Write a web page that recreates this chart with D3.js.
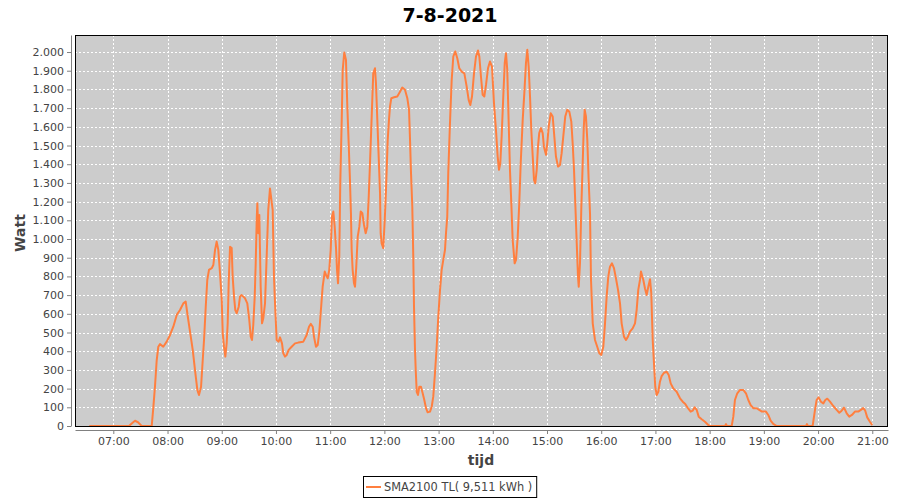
<!DOCTYPE html>
<html><head><meta charset="utf-8">
<script src="https://cdn.jsdelivr.net/npm/d3@7/dist/d3.min.js"></script>
<style>body{margin:0;background:#fff}svg{display:block}text{font-family:"DejaVu Sans",sans-serif}</style>
</head><body><svg id="c" width="900" height="500"></svg>
<script>
const title = "7-8-2021";
const seriesName = "SMA2100 TL( 9,511 kWh )";
const yTicks = [0,100,200,300,400,500,600,700,800,900,1000,1100,1200,1300,1400,1500,1600,1700,1800,1900,2000];
const xTickLabels = ["07:00","08:00","09:00","10:00","11:00","12:00","13:00","14:00","15:00","16:00","17:00","18:00","19:00","20:00","21:00"];
const times = ["06:33:24","07:17:24","07:20:42","07:24:00","07:27:18","07:31:24","07:42:30","07:44:18","07:46:06","07:48:00","07:49:48","07:51:42","07:55:18","07:59:06","08:02:48","08:06:24","08:10:12","08:13:48","08:17:30","08:20:06","08:21:54","08:24:54","08:27:54","08:30:24","08:33:00","08:34:48","08:37:06","08:38:30","08:40:24","08:42:18","08:44:00","08:45:54","08:48:54","08:50:42","08:52:36","08:54:24","08:56:12","08:58:06","09:00:00","09:01:06","09:02:30","09:04:00","09:05:30","09:06:36","09:07:42","09:09:12","09:11:00","09:12:06","09:13:36","09:15:00","09:16:36","09:18:48","09:20:12","09:22:06","09:25:48","09:28:18","09:30:30","09:32:06","09:33:30","09:34:54","09:36:30","09:37:36","09:38:42","09:39:24","09:40:30","09:41:36","09:43:06","09:44:36","09:46:00","09:47:54","09:49:48","09:51:30","09:53:24","09:56:24","09:57:48","09:59:18","10:00:48","10:03:00","10:04:30","10:06:42","10:08:06","10:10:00","10:11:54","10:14:06","10:17:24","10:21:06","10:24:42","10:30:18","10:34:00","10:36:36","10:38:30","10:40:42","10:42:06","10:44:18","10:46:12","10:48:00","10:49:30","10:51:42","10:54:00","10:55:24","10:57:18","10:59:00","11:00:36","11:02:00","11:03:30","11:05:00","11:06:30","11:07:36","11:08:42","11:10:06","11:11:12","11:12:48","11:13:54","11:15:36","11:17:30","11:19:00","11:20:30","11:21:54","11:23:00","11:23:48","11:24:54","11:26:24","11:27:30","11:28:54","11:30:30","11:32:18","11:33:48","11:35:36","11:37:30","11:39:18","11:41:06","11:42:42","11:44:06","11:46:18","11:47:42","11:49:36","11:50:42","11:52:12","11:53:42","11:55:12","11:55:54","11:57:00","11:58:48","12:00:24","12:01:48","12:03:42","12:05:06","12:06:12","12:07:42","12:10:42","12:14:18","12:17:18","12:19:48","12:22:48","12:25:24","12:27:18","12:28:24","12:29:30","12:30:54","12:32:00","12:32:48","12:33:54","12:34:42","12:35:48","12:37:12","12:38:42","12:40:30","12:42:24","12:44:12","12:46:06","12:47:54","12:50:30","12:52:24","12:54:06","12:56:00","12:57:54","12:59:42","13:01:36","13:03:24","13:05:12","13:07:06","13:08:12","13:09:36","13:10:42","13:12:36","13:14:30","13:16:18","13:18:30","13:20:42","13:22:54","13:25:36","13:28:30","13:31:06","13:33:18","13:35:06","13:37:00","13:39:12","13:41:24","13:43:36","13:45:06","13:46:54","13:48:48","13:50:36","13:52:30","13:54:42","13:56:54","13:59:06","14:01:18","14:03:30","14:05:24","14:06:54","14:08:18","14:09:48","14:11:36","14:13:12","14:14:36","14:16:00","14:17:36","14:19:00","14:20:30","14:22:00","14:24:12","14:25:42","14:27:36","14:29:18","14:30:54","14:33:06","14:34:54","14:36:42","14:38:12","14:39:42","14:41:12","14:42:36","14:44:12","14:45:36","14:47:00","14:48:36","14:50:00","14:51:24","14:53:18","14:55:12","14:56:36","14:58:54","15:00:18","15:01:54","15:04:06","15:06:18","15:08:06","15:09:54","15:12:12","15:14:24","15:16:12","15:18:00","15:20:12","15:22:24","15:24:42","15:26:54","15:28:24","15:29:54","15:31:18","15:32:54","15:34:18","15:35:06","15:36:30","15:38:00","15:39:30","15:40:36","15:41:42","15:43:06","15:44:36","15:46:06","15:47:36","15:48:42","15:50:36","15:53:06","15:55:36","15:57:54","16:00:06","16:02:18","16:04:12","16:06:00","16:07:48","16:09:42","16:11:54","16:14:06","16:16:18","16:18:36","16:20:48","16:22:36","16:25:12","16:27:24","16:29:36","16:31:48","16:34:48","16:37:24","16:39:12","16:41:00","16:42:54","16:44:00","16:46:36","16:48:24","16:50:18","16:52:06","16:54:00","16:55:24","16:57:00","16:58:24","16:59:48","17:01:24","17:03:12","17:05:00","17:06:54","17:09:30","17:12:30","17:14:42","17:16:54","17:19:48","17:23:30","17:27:12","17:30:12","17:33:00","17:36:00","17:39:00","17:41:12","17:43:24","17:45:42","17:47:54","17:51:12","17:54:48","17:58:30","18:00:24","18:17:00","18:18:06","18:19:12","18:24:24","18:26:12","18:28:00","18:30:36","18:33:36","18:37:12","18:40:12","18:42:48","18:45:24","18:48:18","18:52:00","18:54:54","18:57:54","19:02:18","19:04:54","19:07:30","19:10:24","19:14:12","19:46:36","19:47:42","19:48:48","19:54:00","19:56:36","19:58:24","20:00:36","20:03:12","20:05:48","20:08:00","20:10:12","20:13:12","20:16:48","20:20:36","20:23:30","20:26:06","20:28:42","20:31:42","20:34:30","20:37:30","20:40:48","20:44:30","20:48:12","20:50:00","20:52:12","20:54:24","20:57:24","21:00:00"];
const watts = [0,0,15,28,20,0,0,100,210,350,424,438,424,451,487,531,594,620,656,665,603,505,407,300,193,166,210,317,460,638,781,835,844,861,942,986,942,817,674,497,424,371,444,551,765,959,952,799,692,620,603,638,692,700,683,656,567,478,460,540,692,870,1102,1191,1031,1129,745,549,576,656,915,1156,1270,1156,799,620,460,451,474,442,389,371,380,407,424,442,446,451,487,531,546,531,478,424,433,505,603,745,826,808,790,835,942,1120,1147,1066,951,835,763,906,1300,1637,1905,1997,1958,1708,1512,1316,1138,942,835,763,745,852,1013,1066,1147,1138,1075,1031,1066,1227,1405,1700,1886,1913,1833,1637,1441,1245,1031,977,951,1102,1263,1530,1637,1708,1753,1758,1762,1788,1810,1798,1753,1691,1530,1351,1173,906,638,407,300,183,166,210,210,175,139,95,73,77,103,157,282,424,585,728,835,888,942,1031,1120,1351,1619,1851,1976,2003,1967,1913,1895,1886,1815,1744,1717,1762,1886,1976,2008,1976,1869,1771,1762,1824,1913,1949,1922,1726,1584,1441,1370,1405,1548,1762,1940,1994,1905,1619,1370,1191,995,870,888,1013,1191,1405,1637,1780,1940,2012,1922,1762,1584,1441,1316,1298,1370,1494,1566,1593,1566,1494,1450,1512,1601,1673,1655,1548,1441,1387,1396,1459,1548,1655,1691,1681,1628,1512,1370,1191,977,799,745,870,1173,1405,1584,1691,1655,1530,1316,1138,781,549,460,424,389,380,424,549,692,799,852,870,844,790,728,656,549,478,460,478,505,522,549,620,728,781,826,781,737,700,745,785,710,460,335,210,166,183,237,267,285,290,273,228,201,183,148,130,118,95,77,82,100,86,50,36,23,5,0,0,10,0,0,50,139,175,193,193,175,139,112,95,95,86,77,77,59,29,11,0,0,10,0,0,86,139,153,130,121,139,146,130,107,86,71,82,98,68,50,59,77,77,89,96,82,46,23,5];

const parse = d3.timeParse("%H:%M:%S");
const parseHM = d3.timeParse("%H:%M");
const data = times.map((t,i)=>({t:parse(t), v:watts[i]}));

const svg = d3.select("#c");
const L=75, R=888, T=35, B=426;
const x = d3.scaleTime().domain([parse("06:17:36"), parse("21:17:24")]).range([L,R]);
const y = d3.scaleLinear().domain([0,2091]).range([B,T]);
const nl = d3.formatLocale({decimal:",",thousands:".",grouping:[3],currency:["",""]});
const fmt = nl.format(",d");

svg.append("text").attr("x",450).attr("y",22).attr("text-anchor","middle")
  .attr("font-size",19).attr("font-weight","bold").attr("fill","#000").text(title);

svg.append("rect").attr("x",L).attr("y",T).attr("width",R-L).attr("height",B-T).attr("fill","#cccccc");

const g = svg.append("g");
g.selectAll(".hg").data(yTicks).join("line")
  .attr("x1",L).attr("x2",R).attr("y1",d=>Math.round(y(d))+0.5).attr("y2",d=>Math.round(y(d))+0.5)
  .attr("stroke","#fff").attr("stroke-dasharray","2,2");
g.selectAll(".vg").data(xTickLabels).join("line")
  .attr("y1",T).attr("y2",B).attr("x1",d=>Math.round(x(parseHM(d)))+0.5).attr("x2",d=>Math.round(x(parseHM(d)))+0.5)
  .attr("stroke","#fff").attr("stroke-dasharray","2,2");

svg.append("clipPath").attr("id","pc").append("rect").attr("x",L).attr("y",T).attr("width",R-L).attr("height",B-T);
svg.append("path").datum(data).attr("clip-path","url(#pc)")
  .attr("d", d3.line().x(d=>x(d.t)).y(d=>y(d.v)))
  .attr("fill","none").attr("stroke","#ff7f3f").attr("stroke-width",2).attr("stroke-linejoin","round");

svg.append("rect").attr("x",L+0.5).attr("y",T+0.5).attr("width",R-L-1).attr("height",B-T).attr("fill","none").attr("stroke","#000");

// y axis
const ya = svg.append("g").attr("transform",`translate(${L-4},0)`)
  .call(d3.axisLeft(y).tickValues(yTicks).tickFormat(fmt).tickSize(4).tickSizeOuter(0));
ya.select(".domain").attr("stroke","#808080");
ya.selectAll(".tick line").attr("stroke","#808080");
ya.selectAll(".tick text").attr("font-size",11).attr("fill","#444").attr("font-family","DejaVu Sans");

// x axis
const xa = svg.append("g").attr("transform",`translate(0,${B+4})`)
  .call(d3.axisBottom(x).tickValues(xTickLabels.map(parseHM)).tickFormat(d3.timeFormat("%H:%M")).tickSize(4).tickSizeOuter(0));
xa.select(".domain").attr("stroke","#808080");
xa.selectAll(".tick line").attr("stroke","#808080");
xa.selectAll(".tick text").attr("font-size",11).attr("fill","#444").attr("font-family","DejaVu Sans");

svg.append("text").attr("transform","translate(25,233) rotate(-90)").attr("text-anchor","middle")
  .attr("font-size",14).attr("font-weight","bold").attr("fill","#444").text("Watt");
svg.append("text").attr("x",481).attr("y",465).attr("text-anchor","middle")
  .attr("font-size",14).attr("font-weight","bold").attr("fill","#444").text("tijd");

// legend
const lg = svg.append("g");
const lt = lg.append("text").attr("x",384).attr("y",491).attr("font-size",11.4).attr("fill","#444").text(seriesName);
const bw = lt.node().getComputedTextLength();
lg.insert("rect","text").attr("x",363.5).attr("y",476.5).attr("width",bw+384-363+4).attr("height",21).attr("fill","#fff").attr("stroke","#000");
lg.append("line").attr("x1",366).attr("x2",381).attr("y1",487).attr("y2",487).attr("stroke","#ff7f3f").attr("stroke-width",2);
</script></body></html>
